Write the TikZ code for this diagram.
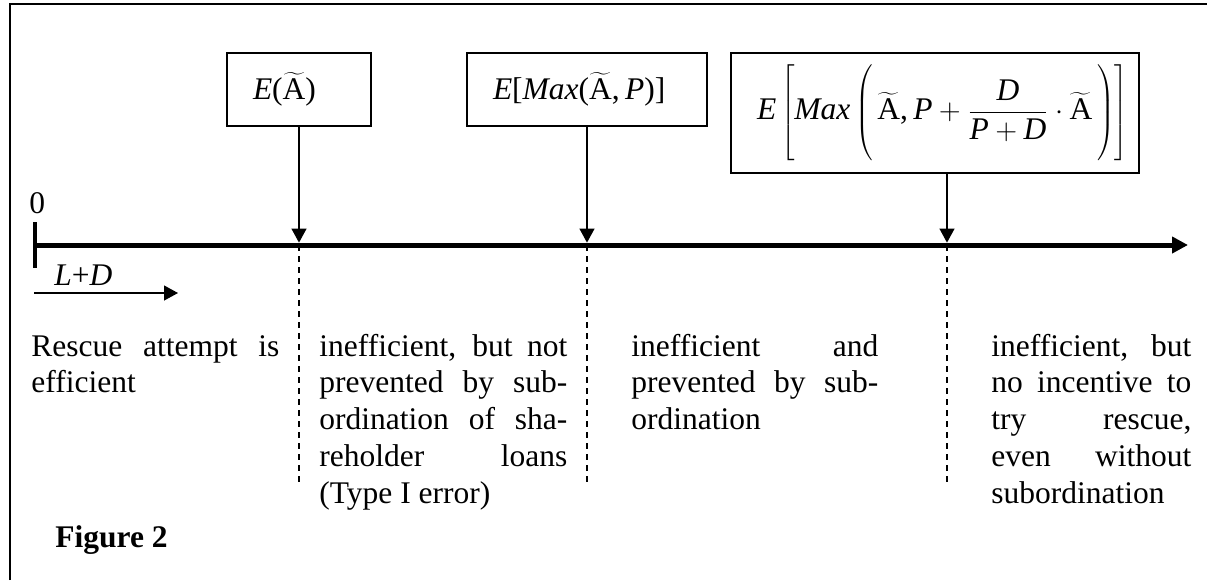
\documentclass[tikz,border=0pt]{standalone}
\usepackage{fontspec}
\setmainfont{Liberation Serif}
\usetikzlibrary{arrows.meta}

\begin{document}
\begin{tikzpicture}[x=0.5pt,y=-0.5pt]
    % font size of all texts
    \def\fs{\fontsize{15.75pt}{18.4pt}\selectfont}
    % tilde A as in the formulas
    \def\tA{$\widetilde{\mbox{A}}$}
    % style definitions
    \tikzstyle{formula} = [
    	draw, line width=0.75pt, rectangle, inner xsep=13pt, inner ysep=0pt,
    	align=left, font=\fs, minimum height=36.5pt ];
    \tikzstyle{region} = [
    	inner sep=0pt, align=justify, anchor=base west, font=\fs,
    	execute at begin node={\tolerance=10000\relax\hyphenpenalty=10000\relax} ];
    \tikzstyle{pointer} = [line width=0.6pt, -{Triangle[length=7pt,width=7.5pt]}];
    \tikzstyle{border} = [line width=0.7pt, dash pattern=on 3pt off 2.5pt];
    \useasboundingbox (0,0) rectangle (1207,580);
    % frame (only top and left side visible)
    \draw[line width=1pt] (10,580) -- (10,4) -- (1207,4);
    % axis
    \coordinate (origin) at (35,245);
    \coordinate (far) at (1188,245);
    \draw[line width=2.5pt, -{Triangle[length=8pt,width=8pt]}] (origin) -- (far);
    \draw[line width=2pt] (35,222) -- (35,268);
    \node[font=\fs, anchor=base west, inner sep=0pt] (zero) at (29,213) {0};
    % L+D arrow
    \coordinate (ldstart) at (34,293);
    \coordinate (ldend) at (178,293);
    \draw[pointer] (ldstart) -- (ldend);
    \node[font=\fs, anchor=base west, inner sep=0pt] (ld) at (54,285) {\textit{L}+\textit{D}};
    % thresholds
    \node[formula, text width=46pt] (ea) at (299,89.5) {\textit{E}(\tA)};
    \node[formula, text width=94pt] (eb) at (587,89.5) {\textit{E}[\textit{Max}(\tA,\,\textit{P})]};
    \node[formula, text width=178pt, minimum height=60pt] (ec) at (935,113)
    	{$\displaystyle\mbox{\textit{E}}\left[\vrule height 21pt depth 21pt width 0pt\mbox{\textit{Max}}
    	\left(\vrule height 20pt depth 20pt width 0pt\,\widetilde{\mbox{A}}\mbox{,\,}
    	\mbox{\textit{P}}+\frac{\mbox{\textit{D}}}{\mbox{\textit{P}}+\mbox{\textit{D}}}
    	\cdot\widetilde{\mbox{A}}\,\right)\right]$};
    \foreach \b/\x/\i in {ea/299/1, eb/587/2, ec/947/3}
    {
    	\coordinate (t\i) at (\x,245);
    	\coordinate (d\i) at (\x,485);
    	\draw[pointer, shorten >=1.2pt] (\b.south -| t\i) -- (t\i);
    	\draw[border] (t\i) -- (d\i);
    }
    % regions between thresholds
    \node[region, text width=124pt] (r1) at (31,356)
    	{Rescue attempt is\linebreak efficient};
    \node[region, text width=124pt] (r2) at (319,356)
    	{inefficient, but not\linebreak prevented by sub-\linebreak ordination of sha-\linebreak
    	reholder loans\linebreak (Type I error)};
    \node[region, text width=123.5pt] (r3) at (631,356)
    	{inefficient and\linebreak prevented by sub-\linebreak ordination};
    \node[region, text width=100pt] (r4) at (991,356)
    	{inefficient, but\linebreak no incentive to\linebreak try rescue,\linebreak
    	even without\linebreak subordination};
    \node[font=\fs\bfseries, anchor=base west, inner sep=0pt] (caption) at (55,547) {Figure 2};
\end{tikzpicture}
\end{document}
